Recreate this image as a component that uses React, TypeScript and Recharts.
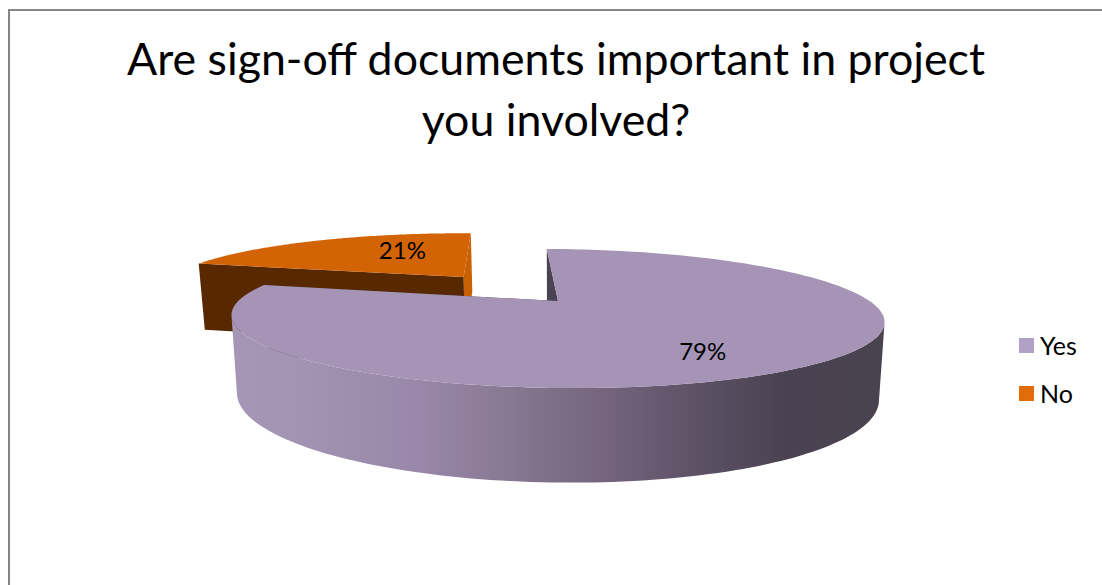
import React from 'react';
import { PieChart, Pie, Legend } from 'recharts';

const categories = ['Yes', 'No'];
const shares = [79, 21];
const titleLines = ['Are sign-off documents important in project', 'you involved?'];

const topColors: Record<string, string> = { Yes: '#a594b6', No: '#d26405' };
const legendColors: Record<string, string> = { Yes: '#b2a1c7', No: '#e36c0a' };
const cutColors: Record<string, { start: string; end: string }> = {
  Yes: { start: '#4a4352', end: '#4a4352' },
  No: { start: '#582900', end: '#c86004' },
};
// how far a slice is pulled out of the pie, as a fraction of the radius
const explode: Record<string, number> = { Yes: 0, No: 0.506 };
const labelNudge: Record<string, [number, number]> = { Yes: [6, 14], No: [31, -4] };

const FONT = 'Lato, "Open Sans", sans-serif';

// Drawn back to front, so the pulled-out slice comes first. The angles run clockwise from just left of 12 o'clock.
const pieRows = categories
  .map((name, i) => ({ name, value: shares[i] }))
  .reverse();

// Tilted-disc projection: y > 0 is the far side of the pie
const PERSPECTIVE = 0.252;
const SQUASH = 0.206;
const ROLL = 0.0108;
const FLOOR_SHRINK = 0.983;

type Pt = [number, number];

const rad = (deg: number) => (deg * Math.PI) / 180;

function project(x: number, y: number, cx: number, cy: number, r: number): Pt {
  const w = 1 + PERSPECTIVE * y;
  const px = cx + (r * x) / w;
  const py = cy - (r * SQUASH * y) / w + ROLL * (px - cx);
  return [px, py];
}

function projectFloor(x: number, y: number, cx: number, cy: number, r: number): Pt {
  const [px, py] = project(x, y, cx, cy, r);
  const w = 1 + PERSPECTIVE * y;
  return [cx + (px - cx) * FLOOR_SHRINK, py + 13 + 61 / w];
}

const toPath = (pts: Pt[]) =>
  'M' + pts.map(([x, y]) => `${x.toFixed(1)},${y.toFixed(1)}`).join('L') + 'Z';

const Slice3D = (props: any) => {
  const { cx, cy, outerRadius: r, startAngle, endAngle } = props;
  const name: string = props.name ?? props.payload?.name;
  const midAngle = rad((startAngle + endAngle) / 2);
  const ox = explode[name] * Math.cos(midAngle);
  const oy = explode[name] * Math.sin(midAngle);

  const angles: number[] = [];
  const arc: Pt[] = [];
  const steps = 200;
  for (let i = 0; i <= steps; i++) {
    const a = rad(startAngle + ((endAngle - startAngle) * i) / steps);
    angles.push(a);
    arc.push([ox + Math.cos(a), oy + Math.sin(a)]);
  }
  const topArc = arc.map(([x, y]) => project(x, y, cx, cy, r));
  const floorArc = arc.map(([x, y]) => projectFloor(x, y, cx, cy, r));
  const apexTop = project(ox, oy, cx, cy, r);
  const apexFloor = projectFloor(ox, oy, cx, cy, r);
  const last = arc.length - 1;

  // the rim wall only shows between the two side silhouettes of the disc
  const nearTop = topArc.filter((_, i) => Math.sin(angles[i]) < -PERSPECTIVE);
  const nearFloor = floorArc.filter((_, i) => Math.sin(angles[i]) < -PERSPECTIVE);

  return (
    <g>
      <path d={toPath([apexTop, topArc[last], floorArc[last], apexFloor])} fill={cutColors[name].end} />
      <path d={toPath([apexTop, topArc[0], floorArc[0], apexFloor])} fill={cutColors[name].start} />
      {nearTop.length > 0 && (
        <path d={toPath([...nearTop, ...nearFloor.reverse()])} fill="url(#wallShade)" />
      )}
      <path d={toPath([apexTop, ...topArc])} fill={topColors[name]} />
    </g>
  );
};

const renderPercent = (props: any) => {
  const { cx, cy, outerRadius: r, midAngle, name, value } = props;
  const a = rad(midAngle);
  const f = 0.6;
  const [x, y] = project(
    explode[name] * Math.cos(a) + f * Math.cos(a),
    explode[name] * Math.sin(a) + f * Math.sin(a),
    cx,
    cy,
    r,
  );
  const [dx, dy] = labelNudge[name];
  return (
    <text x={x + dx} y={y + dy} textAnchor="middle" dominantBaseline="central" fontSize={24} fontFamily={FONT} fill="#000">
      {`${value}%`}
    </text>
  );
};

const renderLegend = () => (
  <div style={{ fontFamily: FONT, fontSize: 25, color: '#000' }}>
    {categories.map((name) => (
      <div key={name} style={{ display: 'flex', alignItems: 'center', height: 48 }}>
        <span style={{ width: 15, height: 15, background: legendColors[name], marginRight: 6 }} />
        {name}
      </div>
    ))}
  </div>
);

export default function App() {
  return (
    <div style={{ position: 'absolute', left: 0, top: 0, width: 1102, height: 585, background: '#fff', overflow: 'hidden' }}>
      <div style={{ position: 'absolute', left: 8, top: 9, right: -4, bottom: -4, borderLeft: '2px solid #868686', borderTop: '2px solid #868686' }} />
      <PieChart width={1102} height={585} margin={{ top: 0, right: 0, bottom: 0, left: 0 }}>
        <defs>
          <linearGradient id="wallShade" gradientUnits="userSpaceOnUse" x1="232" y1="0" x2="885" y2="0">
            <stop offset="0%" stopColor="#a595b6" />
            <stop offset="9%" stopColor="#a394b4" />
            <stop offset="29%" stopColor="#9887a8" />
            <stop offset="45%" stopColor="#84758f" />
            <stop offset="57%" stopColor="#74657d" />
            <stop offset="72%" stopColor="#5c5065" />
            <stop offset="85%" stopColor="#4a4250" />
            <stop offset="100%" stopColor="#49424f" />
          </linearGradient>
        </defs>
        <text x={556} textAnchor="middle" fontSize={44.7} fontFamily={FONT} fill="#000">
          <tspan x={556} y={75}>{titleLines[0]}</tspan>
          <tspan x={556} y={136}>{titleLines[1]}</tspan>
        </text>
        <Pie
          data={pieRows}
          dataKey="value"
          nameKey="name"
          cx={558}
          cy={301}
          innerRadius={0}
          outerRadius={316}
          startAngle={168.15}
          endAngle={-191.85}
          stroke="none"
          shape={Slice3D}
          inactiveShape={Slice3D}
          label={renderPercent}
          labelLine={false}
          isAnimationActive={false}
        />
        <Legend
          content={renderLegend}
          wrapperStyle={{ position: 'absolute', left: 1019, top: 321, width: 83 }}
        />
      </PieChart>
    </div>
  );
}
